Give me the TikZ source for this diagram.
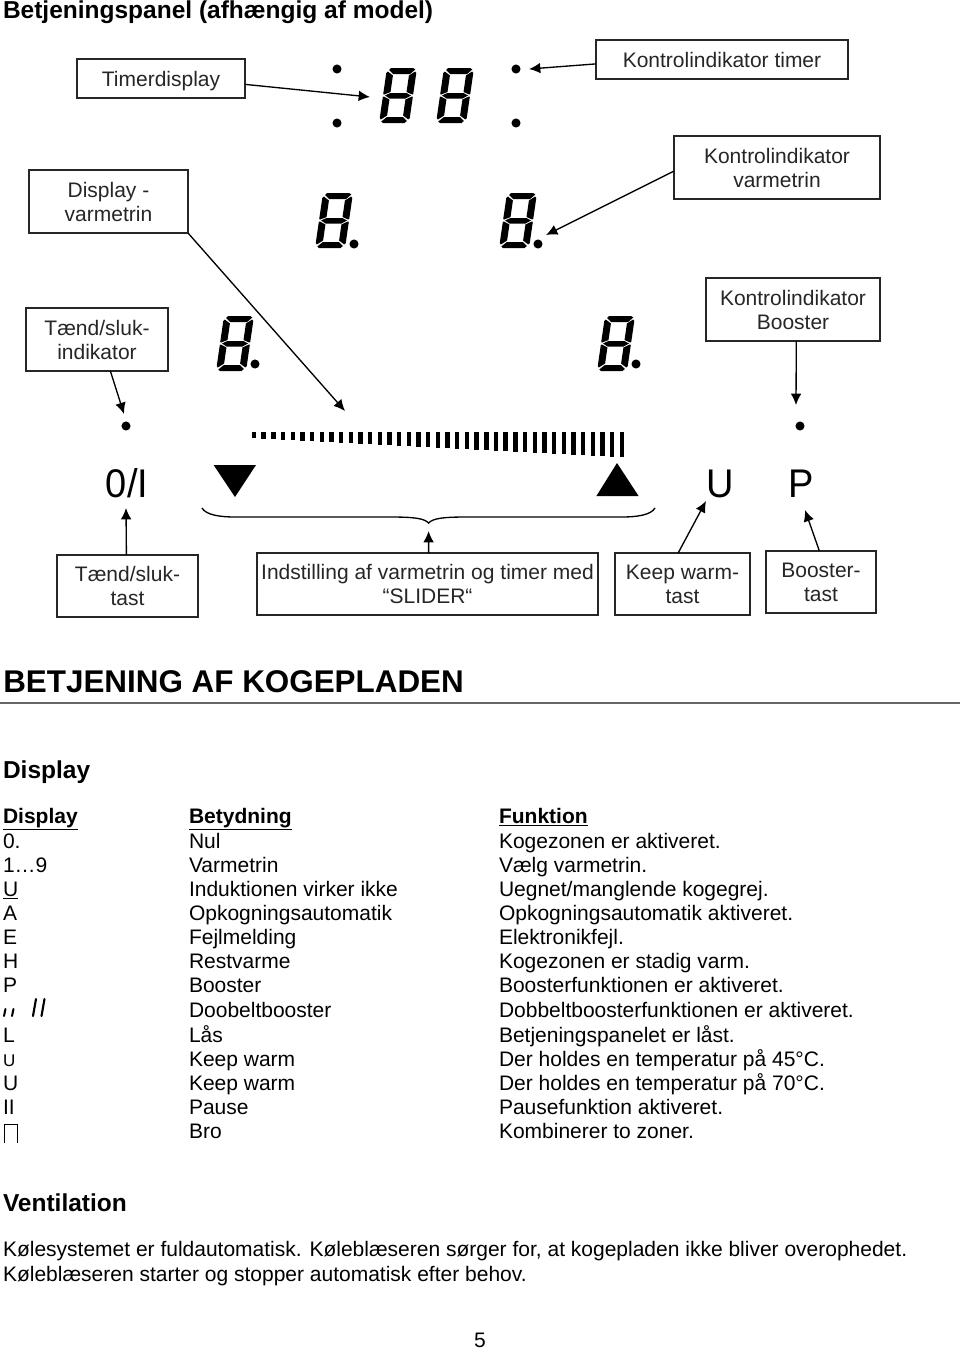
\documentclass[tikz,border=0pt]{standalone}
\usepackage{fontspec}
\setmainfont{Liberation Sans}
\usetikzlibrary{arrows.meta}
\newcommand{\FS}[1]{\fontsize{\dimexpr#1pt*3/4\relax}{\dimexpr#1pt*9/10\relax}\selectfont}
\tikzset{
  x=0.75pt,y=-0.75pt,
  boxed/.style 2 args={draw=black!85,line width=1.1pt,fill=white,inner sep=0pt,outer sep=0pt,align=center,
    minimum width=#1*0.75pt,minimum height=#2*0.75pt,font=\FS{21}\setlength{\baselineskip}{18pt},text=black!85},
  conn/.style={draw=black,line width=1pt,-{Latex[length=8.5pt,width=8pt]}},
  row/.style={anchor=base west,inner sep=0pt,outer sep=0pt,font=\FS{21}},
  head/.style={anchor=base west,inner sep=0pt,outer sep=0pt,font=\FS{24.5}\bfseries},
  seg/.style={fill=black,draw=none},
  pics/digit/.style={code={
    \begin{scope}[shift={(8,0)},xslant=0.145]
    \fill[seg] (4,0)--(26,0)--(28.5,1.5)--(24,6)--(7,6)--(2.5,2)--cycle;
    \fill[seg] (2,27.5)--(7,25)--(23,25)--(28,27.5)--(23,30.5)--(7,30.5)--cycle;
    \fill[seg] (7,49)--(23,49)--(27.5,53)--(25.5,55)--(4,55)--(2,53.5)--cycle;
    \fill[seg] (0,5)--(1.3,3.5)--(7,7.5)--(7,24)--(1,26.5)--(0,26)--cycle;
    \fill[seg] (30,5)--(30,26)--(29,26.5)--(23,24)--(23,7.5)--(28.7,3.5)--cycle;
    \fill[seg] (0,29)--(1,28.5)--(7,31.5)--(7,47.5)--(1.3,51.5)--(0,50)--cycle;
    \fill[seg] (30,29)--(30,50)--(28.7,51.5)--(23,47.5)--(23,31.5)--(29,28.5)--cycle;
    \end{scope}
  }},
  dotm/.style={circle,fill=black,inner sep=0pt,outer sep=0pt,minimum size=6.8pt},
  bigtxt/.style={inner sep=0pt,outer sep=0pt,anchor=base,font=\FS{40},xscale=0.95},
}
\begin{document}
\begin{tikzpicture}
\useasboundingbox (0,0) rectangle (960,1349);
\fill[white] (0,0) rectangle (960,1349);

\node[head] (title) at (3,18) {Betjeningspanel (afhængig af model)};

% boxes
\node[boxed={168}{39},text depth=0pt] (timerbox) at (161,78.5) {Timerdisplay};
\node[boxed={252}{39}] (ktimer) at (722,59.5) {Kontrolindikator timer};
\node[boxed={159}{63}] (dvarme) at (108.5,201.5) {Display -\\varmetrin};
\node[boxed={206}{63}] (kvarme) at (777,167.5) {Kontrolindikator\\varmetrin};
\node[boxed={142}{63}] (tindik) at (97,339.5) {Tænd/sluk-\\indikator};
\node[boxed={174}{63}] (kboost) at (793,309.5) {Kontrolindikator\\Booster};
\node[boxed={141}{62}] (ttast) at (127.5,586) {Tænd/sluk-\\tast};
\node[boxed={341}{62}] (slider) at (427.5,584) {Indstilling af varmetrin og timer med\\“SLIDER“};
\node[boxed={135}{62}] (keep) at (682.5,584) {Keep warm-\\tast};
\node[boxed={110}{62}] (btast) at (821,582) {Booster-\\tast};

% digits
\pic at (379,68) {digit};
\pic at (436,68) {digit};
\pic at (315,193) {digit};
\pic at (499,193) {digit};
\pic at (216,316) {digit};
\pic at (597,316) {digit};
% dots
\node[dotm] (d1) at (337,69) {};
\node[dotm] (d2) at (337,123) {};
\node[dotm] (d3) at (516,69) {};
\node[dotm] (d4) at (516,123) {};
\node[dotm] (d5) at (354,244) {};
\node[dotm] (d6) at (538,244) {};
\node[dotm] (d7) at (255,364) {};
\node[dotm] (d8) at (636,364) {};
\node[dotm] (d9) at (126,426) {};
\node[dotm] (d10) at (800,426) {};

% slider bars
\foreach \i in {0,...,38}{
  \pgfmathsetmacro{\xx}{254+\i*9.68}
  \pgfmathsetmacro{\yy}{438+\i*0.5}
  \fill[black] (\xx-2.2,432) rectangle (\xx+2.2,\yy);
}
% triangles
\fill[black] (213.6,465) -- (256,465) -- (235,497) -- cycle;
\fill[black] (617,463) -- (638.6,496) -- (596.4,496) -- cycle;
% keys
\node[bigtxt] (onoff) at (127,497) {0/I};
\node[bigtxt] (ukey) at (720.5,497) {U};
\node[bigtxt] (pkey) at (801.5,497) {P};
% brace
\draw[line width=1pt,black] (202,508) .. controls (206,515) and (220,517) .. (235,517)
  -- (390,517) .. controls (412,517) and (424,518) .. (428.6,523)
  .. controls (433,518) and (445,517) .. (467,517)
  -- (622,517) .. controls (637,517) and (651,515) .. (655,508);

% connector ends
\coordinate (t1) at (370,97);
\coordinate (t2) at (529,69);
\coordinate (t3) at (345,411);
\coordinate (t4) at (546,235);
\coordinate (t5) at (124,414);
\coordinate (t6) at (796,405);
\coordinate (t7) at (126,508);
\coordinate (t8) at (428.6,531);
\coordinate (t9) at (706,501);
\coordinate (t10) at (805,510);
\draw[conn] (timerbox.-4.4) -- (t1);
\draw[conn] (ktimer.182.5) -- (t2);
\draw[conn] (dvarme.south east) -- (t3);
\draw[conn] (kvarme.182.5) -- (t4);
\draw[conn] (tindik.-67.6) -- (t5);
\draw[conn] (kboost.-84.6) -- (t6);
\draw[conn] (ttast.92.8) -- (t7);
\draw[conn] (slider.88) -- (t8);
\draw[conn] (keep.98.3) -- (t9);
\draw[conn] (btast.93.7) -- (t10);

% section
\node[anchor=base west,inner sep=0pt,font=\FS{31.4}\bfseries] (sec) at (3,692) {BETJENING AF KOGEPLADEN};
\draw[black!60,line width=1.3pt] (0,703) -- (960,703);
\node[head] (disp) at (3,778) {Display};

% table head
\node[row,font=\FS{21}\bfseries] (h1) at (3,823) {\underline{Display}};
\node[row,font=\FS{21}\bfseries] (h2) at (189,823) {\underline{Betydning}};
\node[row,font=\FS{21}\bfseries] (h3) at (499,823) {\underline{Funktion}};

% rows
\node[row] (a1) at (3,848) {0.};
\node[row] (b1) at (189,848) {Nul};
\node[row] (c1) at (499,848) {Kogezonen er aktiveret.};
\node[row] (a2) at (3,872) {1…9};
\node[row] (b2) at (189,872) {Varmetrin};
\node[row] (c2) at (499,872) {Vælg varmetrin.};
\node[row] (a3) at (3,896) {\underline{U}};
\node[row] (b3) at (189,896) {Induktionen virker ikke};
\node[row] (c3) at (499,896) {Uegnet/manglende kogegrej.};
\node[row] (a4) at (3,920) {A};
\node[row] (b4) at (189,920) {Opkogningsautomatik};
\node[row] (c4) at (499,920) {Opkogningsautomatik aktiveret.};
\node[row] (a5) at (3,944) {E};
\node[row] (b5) at (189,944) {Fejlmelding};
\node[row] (c5) at (499,944) {Elektronikfejl.};
\node[row] (a6) at (3,968.7) {H};
\node[row] (b6) at (189,968.7) {Restvarme};
\node[row] (c6) at (499,968.7) {Kogezonen er stadig varm.};
\node[row] (a7) at (3,992.7) {P};
\node[row] (b7) at (189,992.7) {Booster};
\node[row] (c7) at (499,992.7) {Boosterfunktionen er aktiveret.};
\draw[line width=1.5pt,line cap=round] (4,1016) -- (5.5,1009) (12,1016) -- (13.5,1009);
\draw[line width=1.6pt,line cap=round] (33,1016) -- (36,999) (41.5,1016) -- (44.5,999);
\node[row] (b8) at (189,1017.7) {Doobeltbooster};
\node[row] (c8) at (499,1017.7) {Dobbeltboosterfunktionen er aktiveret.};
\node[row] (a9) at (3,1042) {L};
\node[row] (b9) at (189,1042) {Lås};
\node[row] (c9) at (499,1042) {Betjeningspanelet er låst.};
\node[row,font=\FS{17}] (a10) at (3,1066) {U};
\node[row] (b10) at (189,1066) {Keep warm};
\node[row] (c10) at (499,1066) {Der holdes en temperatur på 45°C.};
\node[row] (a11) at (3,1090.5) {U};
\node[row] (b11) at (189,1090.5) {Keep warm};
\node[row] (c11) at (499,1090.5) {Der holdes en temperatur på 70°C.};
\node[row] (a12) at (3,1114.5) {II};
\node[row] (b12) at (189,1114.5) {Pause};
\node[row] (c12) at (499,1114.5) {Pausefunktion aktiveret.};
\draw[line width=1.3pt] (4.5,1143) -- (4.5,1124.5) -- (17.5,1124.5) -- (17.5,1143);
\node[row] (b13) at (189,1138.5) {Bro};
\node[row] (c13) at (499,1138.5) {Kombinerer to zoner.};

\node[head] (vent) at (3,1211) {Ventilation};
\node[row] (v1) at (3,1256) {Kølesystemet er fuldautomatisk. Køleblæseren sørger for, at kogepladen ikke bliver overophedet.};
\node[row] (v2) at (3,1281) {Køleblæseren starter og stopper automatisk efter behov.};
\node[row] (pg) at (474,1347) {5};
\end{tikzpicture}
\end{document}
